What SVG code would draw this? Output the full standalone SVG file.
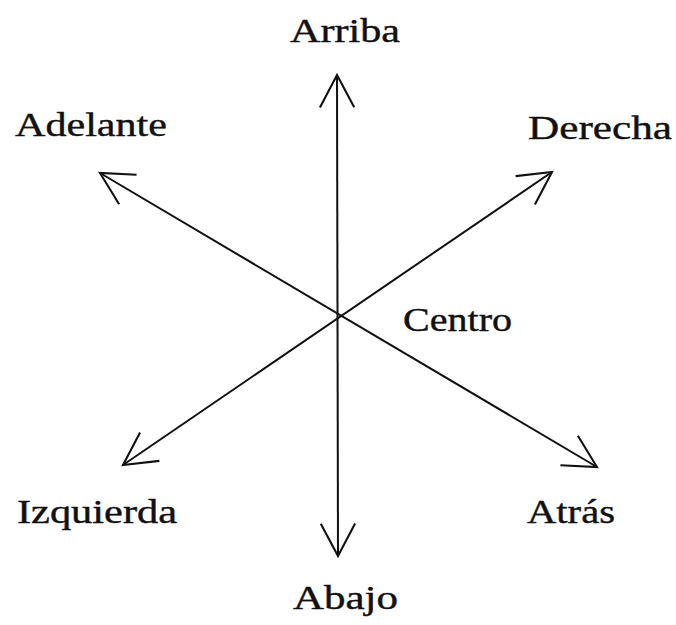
<svg xmlns="http://www.w3.org/2000/svg" width="676" height="625" viewBox="0 0 676 625">
<style>
.lbl{font-family:"Liberation Serif","Times New Roman",serif;font-size:33px;fill:#111;stroke:#111;stroke-width:0.4}
.ln{stroke:#111;stroke-width:2;fill:none}
</style>
<defs>
<marker id="ah" markerUnits="userSpaceOnUse" markerWidth="40" markerHeight="40" viewBox="-38 -20 42 40" refX="0" refY="0" orient="auto-start-reverse">
<path d="M-34,-18 L0,0 L-34,18" fill="none" stroke="#111" stroke-width="2.2"/>
</marker>
</defs>
<rect width="676" height="625" fill="#fff"/>
<g id="connectors">
<line class="ln" x1="337" y1="75" x2="338" y2="556" marker-start="url(#ah)" marker-end="url(#ah)"/>
<line class="ln" x1="100" y1="173" x2="597" y2="467" marker-start="url(#ah)" marker-end="url(#ah)"/>
<line class="ln" x1="123" y1="465" x2="552" y2="172" marker-start="url(#ah)" marker-end="url(#ah)"/>
</g>
<g id="arriba"><text class="lbl" x="290" y="42" textLength="110" lengthAdjust="spacingAndGlyphs">Arriba</text></g>
<g id="adelante"><text class="lbl" x="15" y="136" textLength="152" lengthAdjust="spacingAndGlyphs">Adelante</text></g>
<g id="derecha"><text class="lbl" x="528" y="139" textLength="144" lengthAdjust="spacingAndGlyphs">Derecha</text></g>
<g id="centro"><text class="lbl" x="403" y="331" textLength="109" lengthAdjust="spacingAndGlyphs">Centro</text></g>
<g id="izquierda"><text class="lbl" x="17" y="523" textLength="160" lengthAdjust="spacingAndGlyphs">Izquierda</text></g>
<g id="atras"><text class="lbl" x="527" y="523" textLength="88" lengthAdjust="spacingAndGlyphs">Atrás</text></g>
<g id="abajo"><text class="lbl" x="293" y="609" textLength="105" lengthAdjust="spacingAndGlyphs">Abajo</text></g>
</svg>
